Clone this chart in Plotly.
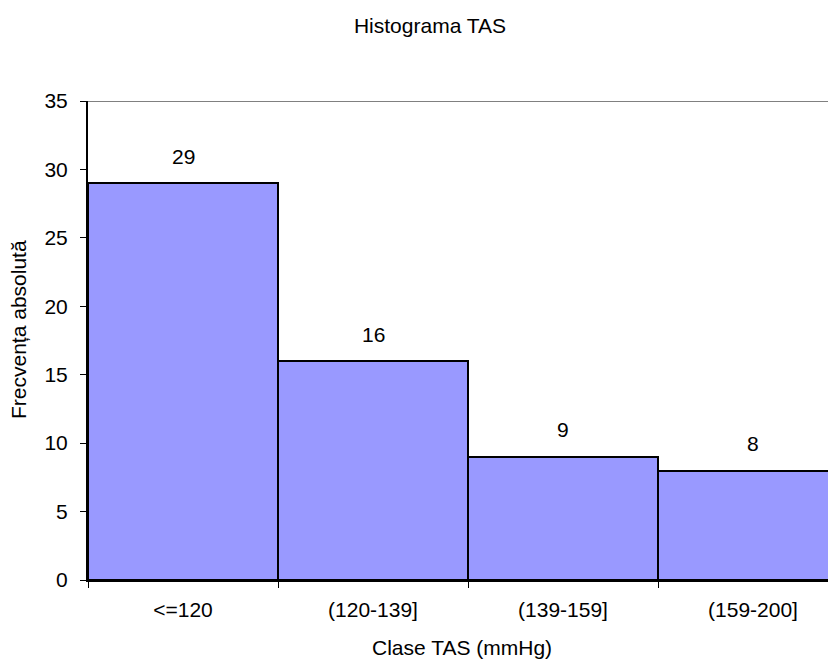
import plotly.graph_objects as go

categories = ["<=120", "(120-139]", "(139-159]", "(159-200]"]
counts = [29, 16, 9, 8]
y_ticks = [0, 5, 10, 15, 20, 25, 30, 35]

FONT = "Liberation Sans, Arial, sans-serif"
FS = 21

fig = go.Figure()
fig.add_trace(go.Bar(
    x=categories, y=counts,
    marker=dict(color="#9999FF", line=dict(color="black", width=2)),
    width=1.0,
    hoverinfo="x+y",
))

for c, v in zip(categories, counts):
    fig.add_annotation(x=c, y=v, text=str(v), showarrow=False,
                       yshift=27, font=dict(size=FS, color="black", family=FONT))

# top border of plot area (grey)
fig.add_shape(type="line", xref="paper", yref="y", x0=0, x1=1, y0=35, y1=35,
              line=dict(color="#808080", width=2))

# axis titles
fig.add_annotation(text="Clase TAS (mmHg)", xref="paper", yref="paper",
                   x=0.5, y=-(639 - 572) / 479, xanchor="center", yanchor="middle",
                   showarrow=False, font=dict(size=FS, color="black", family=FONT))
fig.add_annotation(text="Frecvența absolută", xref="paper", yref="paper",
                   x=-70 / 748, y=(572 - 322) / 479, xanchor="center", yanchor="middle",
                   textangle=-90, showarrow=False,
                   font=dict(size=FS, color="black", family=FONT))

fig.update_layout(
    width=828, height=654,
    margin=dict(l=80, r=0, t=93, b=82),
    paper_bgcolor="white", plot_bgcolor="white",
    font=dict(family=FONT, size=FS, color="black"),
    title=dict(text="Histograma TAS", x=422 / 828, xanchor="center",
               y=1 - 18 / 654, yanchor="middle", yref="container",
               font=dict(size=FS, color="black", family=FONT)),
    bargap=0,
    showlegend=False,
    xaxis=dict(
        type="category",
        range=[-0.5, 3.5 - 12 / 190],
        tickson="boundaries",
        ticks="outside", ticklen=6, tickcolor="black", tickwidth=1,
        ticklabelstandoff=10,
        showline=True, linecolor="black", linewidth=2,
        showgrid=False, zeroline=False,
        tickfont=dict(size=FS, color="black"),
    ),
    yaxis=dict(
        range=[0, 35],
        tickvals=y_ticks,
        ticks="outside", ticklen=6, tickcolor="black", tickwidth=1,
        ticklabelstandoff=8,
        showline=True, linecolor="black", linewidth=2,
        showgrid=False, zeroline=False,
        tickfont=dict(size=FS, color="black"),
    ),
)

fig.write_html("out.html")
